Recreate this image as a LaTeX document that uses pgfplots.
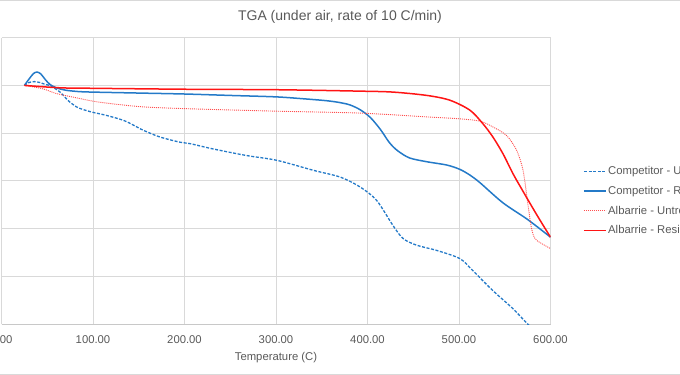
\documentclass[border=0pt]{standalone}
\usepackage{fontspec}
\setmainfont{Liberation Sans}
\usepackage{pgfplots}
\pgfplotsset{compat=1.18}
\definecolor{cblue}{RGB}{36,122,200}
\definecolor{cred}{RGB}{255,20,20}
\definecolor{cgrid}{RGB}{217,217,217}
\definecolor{ctext}{RGB}{89,89,89}
\pgfplotstableread{
x y
25 100
30 100.6
36 100.8
42 100.6
48 100.2
53 100.0
64 98.6
73 96.8
82 95.5
90 94.9
99 94.4
115 93.7
133 92.7
145 91.6
155 90.6
173 89.2
195 88.1
206 87.8
231 86.7
268 85.3
301 84.3
341 82.2
370 80.8
392 78.7
410 75.9
428 70.6
439 67.9
454 66.5
476 65.4
501 63.7
515 61.2
537 57.0
559 53.2
575 50.0
600 45.3
}\compU
\pgfplotstableread{
x y
25 100
30 101.3
35 102.5
39 102.8
43 102.4
48 101.2
53 100.2
60 99.5
70 99.0
85 98.7
100 98.6
150 98.4
200 98.2
250 97.9
300 97.6
330 97.2
355 96.8
370 96.4
381 95.9
392 94.9
403 93.3
414 90.8
424 88.0
433 86.3
446 84.8
465 84.0
487 83.3
501 82.4
512 81.2
523 79.6
548 75.4
575 71.9
600 68.2
}\compR
\pgfplotstableread{
x y
25 100
45 99.3
60 98.3
82 97.4
100 96.7
119 96.2
155 95.5
206 95.1
301 94.6
392 94.2
465 93.4
501 93.0
523 92.5
537 91.3
552 89.5
563 86.4
570 82.2
575 75.5
579 70.3
583 67.9
590 66.9
600 65.8
}\albU
\pgfplotstableread{
x y
25 100
64 99.5
100 99.4
200 99.2
300 99.1
392 98.8
428 98.6
465 97.9
490 96.9
512 94.8
526 92.0
537 89.2
548 85.7
559 81.5
570 77.8
580 74.5
590 71.3
600 68.2
}\albR
\begin{document}
\begin{tikzpicture}
\useasboundingbox (-1.5bp,-51bp) rectangle (678.5bp,324bp);
\clip (-1.5bp,-51bp) rectangle (678.5bp,324bp);
\draw[cgrid, line width=0.75bp] (-10bp,323.5bp) -- (690bp,323.5bp);
\draw[cgrid, line width=0.75bp] (-10bp,-50.5bp) -- (690bp,-50.5bp);
\begin{axis}[
  at={(0,0)}, anchor=south west,
  scale only axis, width=549bp, height=286.3bp,
  xmin=0, xmax=600, ymin=50, ymax=110,
  xtick={0,100,...,600}, ytick={50,60,...,110},
  yticklabels={},
  grid=major,
  major grid style={cgrid, line width=0.75bp},
  major tick length=0pt,
  axis x line*=bottom, axis y line*=left,
  x axis line style={draw={rgb,255:red,200;green,200;blue,200}, line width=0.75bp},
  y axis line style={draw=none},
  /pgf/number format/assume math mode=true,
  xticklabel={\pgfmathprintnumber[fixed,fixed zerofill,precision=2]{\tick}},
  xticklabel style={font=\fontsize{11.3bp}{13bp}\selectfont, text=ctext, anchor=north, yshift=-8bp},
  xlabel={Temperature (C)},
  xlabel style={font=\fontsize{11.3bp}{13bp}\selectfont, text=ctext, at={(axis description cs:0.5,0)}, anchor=center, yshift=-34bp},
  title={TGA (under air, rate of 10 C/min)},
  title style={font=\fontsize{14bp}{16bp}\selectfont, text=ctext, at={(axis description cs:0.6166,1)}, anchor=center, yshift=14.7bp},
  legend style={at={(axis description cs:1.0592,0.430)}, anchor=west, draw=none, fill=none,
    font=\fontsize{11.3bp}{13bp}\selectfont,
    inner xsep=0pt, inner ysep=0pt, row sep=9bp,
    nodes={inner xsep=1.5bp, inner ysep=0.5bp}},
  legend cell align=left,
  legend image code/.code={\draw[#1] (0bp,0bp) -- (22bp,0bp);},
  clip=true,
]
\addplot[cblue, line width=1.3bp, dash pattern=on 3bp off 1.6bp, smooth] table {\compU};
\addlegendentry{\textcolor{ctext}{Competitor - Untreated}}
\addplot[cblue, line width=1.5bp, smooth] table {\compR};
\addlegendentry{\textcolor{ctext}{Competitor - Resin Treated}}
\addplot[cred!75, line width=0.9bp, dash pattern=on 1bp off 1bp, smooth] table {\albU};
\addlegendentry{\textcolor{ctext}{Albarrie - Untreated}}
\addplot[cred, line width=1.5bp, smooth] table {\albR};
\addlegendentry{\textcolor{ctext}{Albarrie - Resin Treated}}
\end{axis}
\end{tikzpicture}
\end{document}
